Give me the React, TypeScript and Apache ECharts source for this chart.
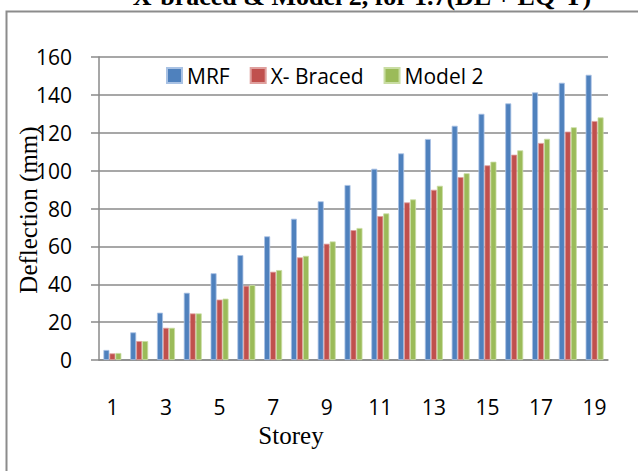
import React, { useEffect, useRef } from "react";
import * as echarts from "echarts";

const categories = ["1","2","3","4","5","6","7","8","9","10","11","12","13","14","15","16","17","18","19"];
const seriesNames = ["MRF", "X- Braced", "Model 2"];
const mrf = [5.3, 14.6, 25, 35.5, 45.8, 55.4, 65.3, 74.6, 83.8, 92.4, 101, 109.1, 116.7, 123.7, 130, 135.5, 141.3, 146.4, 150.6];
const xBraced = [3.5, 10, 17, 24.6, 31.9, 39.2, 46.6, 54.2, 61.4, 68.6, 76, 83.2, 89.9, 96.6, 102.8, 108.4, 114.6, 120.6, 126.2];
const model2 = [3.7, 10, 17, 24.6, 32.4, 39.6, 47.5, 55, 62.6, 69.7, 77.4, 84.8, 92, 98.6, 104.7, 110.7, 116.8, 122.9, 128.1];
const titleText = "X-braced & Model 2, for 1.7(DL + EQ-Y)";
const xAxisTitle = "Storey";
const yAxisTitle = "Deflection (mm)";

const colors = ["#4F81BD", "#C0504D", "#9BBB59"];
const borders = ["#A9C2E4", "#DFA09E", "#C9DDA3"];

export default function App() {
  const ref = useRef<HTMLDivElement>(null);
  useEffect(() => {
    if (!ref.current) return;
    const chart = echarts.init(ref.current, null, { renderer: "svg" });
    const sans = "'Open Sans', sans-serif";
    const serif = "'Liberation Serif', 'Times New Roman', serif";
    const data = [mrf, xBraced, model2];
    chart.setOption({
      animation: false,
      backgroundColor: "#ffffff",
      grid: { left: 99, right: 30, top: 57, bottom: 111, containLabel: false },
      legend: {
        left: 161,
        top: 60,
        itemWidth: 15,
        itemHeight: 15,
        itemGap: 20,
        icon: "rect",
        textStyle: { fontFamily: sans, fontSize: 21, color: "#000" },
        data: seriesNames,
      },
      xAxis: {
        type: "category",
        data: categories,
        axisLine: { lineStyle: { color: "#8a8a8a", width: 1.5 } },
        axisTick: { show: false },
        axisLabel: { interval: 1, margin: 36, fontFamily: sans, fontSize: 21, lineHeight: 22, color: "#000" },
        splitLine: { show: false },
      },
      yAxis: {
        type: "value",
        min: 0,
        max: 160,
        interval: 20,
        axisLine: { show: true, lineStyle: { color: "#8a8a8a", width: 1.5 } },
        axisTick: { show: true, inside: false, length: 8, lineStyle: { color: "#8a8a8a", width: 1.5 } },
        axisLabel: { margin: 27, fontFamily: sans, fontSize: 21, color: "#000" },
        splitLine: { show: true, lineStyle: { color: "#8a8a8a", width: 1.5 } },
      },
      series: seriesNames.map((name, i) => ({
        name,
        type: "bar",
        data: data[i],
        barGap: "0%",
        barCategoryGap: "33%",
        itemStyle: { color: colors[i], borderColor: borders[i], borderWidth: 0.8 },
      })),
      graphic: [
        {
          type: "rect",
          shape: { x: 6.5, y: 11.5, width: 700, height: 500 },
          style: { fill: "none", stroke: "#8c8c8c", lineWidth: 2 },
          silent: true,
        },
        {
          type: "text",
          x: 362,
          y: -4,
          style: {
            text: titleText,
            font: `bold 26px ${serif}`,
            fill: "#000",
            textAlign: "center",
            textVerticalAlign: "middle",
          },
        },
        {
          type: "text",
          x: 291,
          y: 435,
          style: {
            text: xAxisTitle,
            font: `25px ${serif}`,
            fill: "#000",
            textAlign: "center",
            textVerticalAlign: "middle",
          },
        },
        {
          type: "text",
          x: 28,
          y: 210,
          rotation: Math.PI / 2,
          style: {
            text: yAxisTitle,
            font: `25px ${serif}`,
            fill: "#000",
            textAlign: "center",
            textVerticalAlign: "middle",
          },
        },
      ],
    });
    return () => chart.dispose();
  }, []);
  return <div ref={ref} style={{ position: "absolute", left: 0, top: 0, width: 638, height: 471 }} />;
}
